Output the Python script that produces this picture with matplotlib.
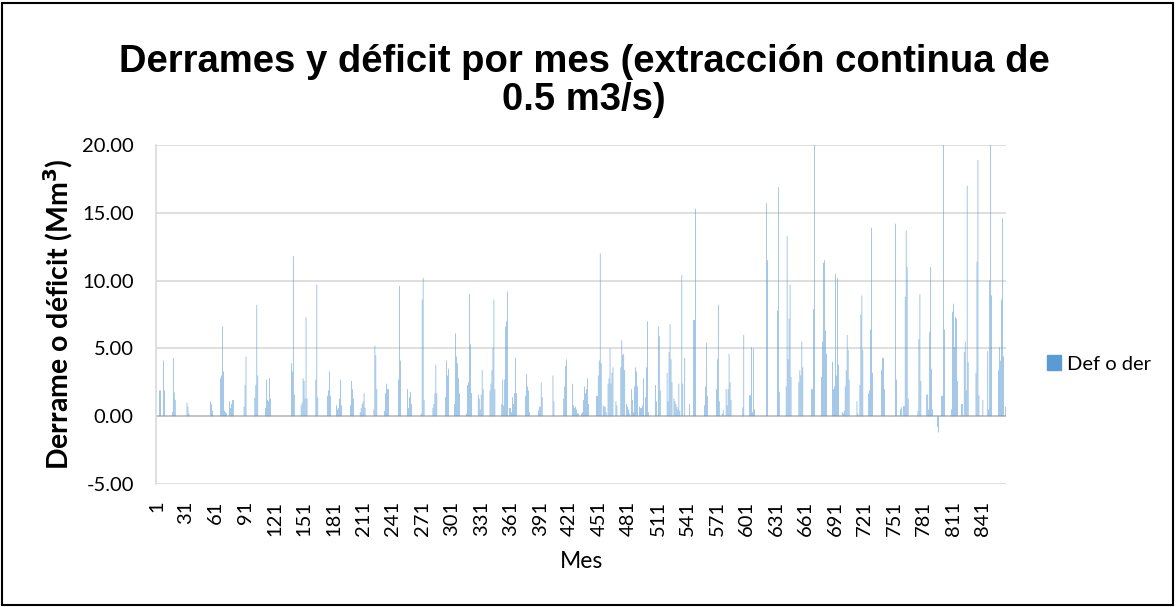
import numpy as np
import matplotlib
matplotlib.use("Agg")
import matplotlib.pyplot as plt
from matplotlib.patches import Rectangle

N_MONTHS = 864

# months with a non-zero spill (+) or deficit (-)
spill_months = [
    4, 5, 8, 9, 17, 18, 19, 20, 32, 33, 34, 56, 57, 58,
    66, 67, 68, 69, 70, 71, 72, 75, 76, 77, 78, 79, 90, 91, 92,
    101, 102, 103, 104, 112, 113, 114, 115, 116, 117, 138, 139, 140, 141,
    148, 149, 150, 151, 152, 153, 154, 163, 164, 165, 175, 176, 177, 178,
    184, 185, 186, 187, 188, 189, 198, 199, 200, 201,
    208, 209, 210, 211, 212, 213, 222, 223, 224, 225,
    233, 234, 235, 236, 237, 247, 248, 249, 256, 257, 258, 259, 260,
    270, 271, 272, 273, 282, 283, 284, 285, 286,
    295, 296, 297, 298, 304, 305, 306, 307, 308, 309,
    316, 317, 318, 319, 320, 321, 328, 329, 330, 331, 332, 333,
    340, 341, 342, 343, 344, 345, 352, 353, 354, 355, 356, 357, 358,
    360, 361, 362, 363, 364, 365, 366, 367, 376, 377, 378, 379, 380,
    389, 390, 391, 392, 393, 404, 405, 415, 416, 417, 418,
    424, 425, 426, 427, 428, 429, 430, 433, 434, 435, 436, 437, 438, 439, 440,
    448, 449, 450, 451, 452, 453, 455, 456, 457, 458,
    460, 461, 462, 463, 464, 465, 468, 469, 473, 474, 475, 476, 477,
    479, 480, 481, 482, 484, 485, 486, 487, 488, 489, 490,
    492, 493, 494, 495, 496, 498, 499, 500, 501, 508, 509, 511, 512, 513,
    520, 521, 522, 523, 524, 525, 527, 528, 529, 530, 531, 532, 533, 535, 536, 538,
    543, 547, 548, 549, 558, 559, 560, 561, 570, 571, 572, 573, 576, 577,
    580, 581, 582, 583, 584, 585, 597, 598, 604, 605, 606, 607, 608, 609,
    621, 622, 632, 633, 634, 641, 642, 643, 644, 645, 646,
    654, 655, 656, 657, 658, 667, 668, 669, 670,
    677, 678, 679, 680, 681, 682, 688, 689, 690, 691, 692, 693, 694,
    698, 699, 700, 701, 702, 703, 704, 705, 713, 714, 716, 717, 718, 719,
    725, 726, 727, 728, 729, 738, 739, 740, 741, 752, 753, 757, 758,
    760, 761, 762, 763, 764, 765, 775, 776, 777, 778,
    784, 785, 786, 787, 788, 789, 790, 795, 796, 799, 800, 801, 802,
    809, 810, 811, 812, 813, 814, 815, 819, 820, 822, 823, 824, 825, 826,
    834, 835, 836, 837, 841, 846, 847, 848, 849, 850,
    857, 858, 859, 860, 861, 862, 864,
]
spill_values = [
    1.9, 1.9, 4.1, 1.9, 0.3, 4.3, 1.75, 1.2, 1.0, 0.7, 0.2, 1.1, 0.9, 0.4,
    2.8, 3.0, 6.6, 3.3, 0.4, 0.3, 0.2, 1.1, 0.6, 0.9, 1.2, 1.2, 0.7, 2.3, 4.4,
    1.35, 2.3, 8.2, 3.0, 0.6, 2.7, 1.2, 1.1, 2.8, 1.3, 3.9, 3.3, 11.8, 1.6,
    0.8, 1.0, 2.8, 2.6, 1.3, 7.3, 1.3, 2.7, 9.7, 1.4, 1.5, 1.9, 3.3, 1.5,
    0.8, 0.5, 0.6, 1.3, 2.7, 0.8, 0.8, 2.6, 2.0, 1.3,
    0.3, 0.6, 0.9, 1.1, 1.7, 0.6, 0.5, 5.2, 4.5, 2.0,
    0.4, 1.7, 2.4, 2.0, 2.0, 2.7, 9.6, 4.1, 2.0, 0.6, 1.4, 1.8, 0.9,
    0.2, 8.6, 10.2, 1.2, 0.6, 0.9, 1.7, 3.8, 1.7,
    1.4, 4.1, 3.0, 3.5, 0.9, 6.1, 4.4, 3.9, 2.8, 1.7,
    0.2, 2.3, 2.5, 9.0, 5.3, 1.7, 1.6, 1.3, 0.5, 1.6, 3.4, 2.0,
    1.9, 2.4, 3.4, 5.0, 8.6, 2.0, 0.9, 2.7, 0.8, 2.7, 6.6, 7.0, 9.2,
    0.6, 0.6, 0.3, 1.4, 0.9, 1.7, 4.3, 1.7, 1.5, 3.1, 2.2, 1.9, 0.3,
    0.4, 0.7, 0.7, 2.5, 1.4, 3.0, 1.1, 1.3, 2.2, 3.7, 4.2,
    2.4, 0.8, 0.6, 0.7, 0.5, 0.2, 0.2, 0.2, 0.3, 1.2, 2.2, 1.7, 2.0, 2.8, 0.9,
    1.5, 1.5, 3.0, 4.1, 12.0, 3.9, 0.8, 0.7, 0.7, 0.3,
    2.4, 2.8, 5.0, 2.4, 3.2, 3.6, 1.1, 0.8, 3.6, 5.6, 4.5, 4.6, 3.4,
    0.9, 0.7, 0.5, 0.2, 2.0, 1.2, 0.3, 2.2, 3.6, 3.3, 2.2,
    0.7, 0.6, 0.6, 0.8, 2.8, 1.4, 3.6, 7.0, 0.3, 2.3, 1.1, 6.6, 5.9, 1.9,
    3.2, 1.1, 4.75, 6.8, 4.2, 2.5, 1.3, 1.1, 0.9, 0.7, 0.5, 2.4, 0.4, 10.4, 2.4, 4.3,
    0.9, 7.1, 7.1, 15.3, 0.8, 2.2, 5.4, 1.5, 2.0, 4.2, 8.2, 1.1, 0.2, 0.45,
    2.0, 0.8, 2.0, 4.6, 2.5, 1.2, 0.65, 6.0, 1.55, 1.55, 5.1, 0.3, 5.0, 0.5,
    15.7, 11.5, 7.8, 16.9, 1.8, 2.2, 13.3, 4.2, 7.2, 9.7, 2.9,
    2.5, 3.4, 3.0, 5.5, 3.6, 2.0, 2.0, 7.9, 21.5,
    2.9, 5.5, 11.3, 11.5, 6.3, 4.6, 4.0, 2.0, 2.2, 10.5, 3.0, 10.2, 3.8,
    0.3, 0.2, 0.4, 2.2, 3.4, 6.0, 4.9, 2.7, 1.1, 0.2, 2.3, 7.5, 8.9, 4.9,
    1.7, 1.9, 6.4, 13.9, 3.2, 3.4, 4.3, 4.3, 2.0, 14.2, 2.7, 0.5, 0.65,
    0.75, 0.75, 8.8, 13.7, 11.0, 1.3, 0.4, 5.7, 9.0, 2.6,
    1.6, 1.6, 0.5, 6.2, 11.0, 3.5, 0.5, -0.8, -1.2, 1.5, 1.5, 21.5, 6.4,
    0.5, 7.7, 8.3, 5.1, 7.3, 7.2, 2.6, 0.9, 0.9, 4.75, 5.5, 1.9, 17.0, 4.0,
    3.2, 11.4, 18.9, 1.55, 1.2, 4.8, 0.5, 10.0, 21.5, 8.9,
    3.4, 5.1, 4.1, 8.6, 14.6, 4.4, 0.7,
]

months = np.arange(1, N_MONTHS + 1)
def_o_der = np.zeros(N_MONTHS)
def_o_der[np.array(spill_months) - 1] = spill_values

tick_months = list(range(1, N_MONTHS, 30))
y_ticks = [-5, 0, 5, 10, 15, 20]

BAR_COLOR = "#5B9BD5"
TICK_FONT = "Lato"

W, H = 1176, 607
fig = plt.figure(figsize=(W / 100, H / 100), dpi=100)

# axes placed in pixel terms of the reference
left, right, top, bottom = 156, 1006, 145, 484
ax = fig.add_axes([left / W, 1 - bottom / H, (right - left) / W, (bottom - top) / H])

# bars are thinner than a pixel: turn snapping off or Agg drops many of them
ax.bar(months, def_o_der, width=0.55, color=BAR_COLOR, linewidth=0,
       snap=False, zorder=3)

ax.set_xlim(0.5, N_MONTHS + 0.5)
ax.set_ylim(-5, 20)
ax.set_yticks(y_ticks)
ax.set_yticklabels([f"{v:.2f}" for v in y_ticks], fontfamily=TICK_FONT, fontsize=14.5)
ax.set_xticks(tick_months)
ax.set_xticklabels([str(m) for m in tick_months], rotation=90,
                   fontfamily=TICK_FONT, fontsize=14.5)
ax.tick_params(axis="both", length=0, colors="#000000")
ax.tick_params(axis="y", pad=16)
ax.tick_params(axis="x", pad=12)

ax.grid(axis="y", color="#d9d9d9", linewidth=1.2, zorder=0)
ax.axhline(0, color="#bfbfbf", linewidth=1.2, zorder=2)
for side in ["top", "right", "bottom"]:
    ax.spines[side].set_visible(False)
ax.spines["left"].set_color("#d9d9d9")
ax.spines["left"].set_linewidth(1.2)

title_kw = dict(ha="center", va="center", fontsize=27.5, fontweight="bold",
                fontfamily="Liberation Sans")
fig.text(584 / W, 1 - 62 / H,
         "Derrames y déficit por mes (extracción continua de", **title_kw)
fig.text(584 / W, 1 - 100 / H, "0.5 m3/s)", **title_kw)
fig.text(58 / W, 1 - 314 / H, "Derrame o déficit (Mm$^{\\mathbf{3}}$)",
         ha="center", va="center", rotation=90, fontsize=20.5,
         fontweight="bold", fontfamily=TICK_FONT)
fig.text(581 / W, 1 - 562 / H, "Mes", ha="center", va="center",
         fontsize=16.5, fontfamily=TICK_FONT)

handle = Rectangle((0, 0), 1, 1, color=BAR_COLOR)
fig.legend([handle], ["Def o der"], loc="center left",
           bbox_to_anchor=(1047 / W, 1 - 364 / H), frameon=False,
           borderpad=0, borderaxespad=0,
           handlelength=0.7, handleheight=0.7, handletextpad=0.3,
           prop={"family": TICK_FONT, "size": 14.5})

# chart area border
fig.patches.append(Rectangle((2 / W, 2 / H), 1 - 5 / W, 1 - 5 / H,
                             transform=fig.transFigure, fill=False,
                             edgecolor="black", linewidth=1.5))

fig.savefig("out.png", dpi=100)
